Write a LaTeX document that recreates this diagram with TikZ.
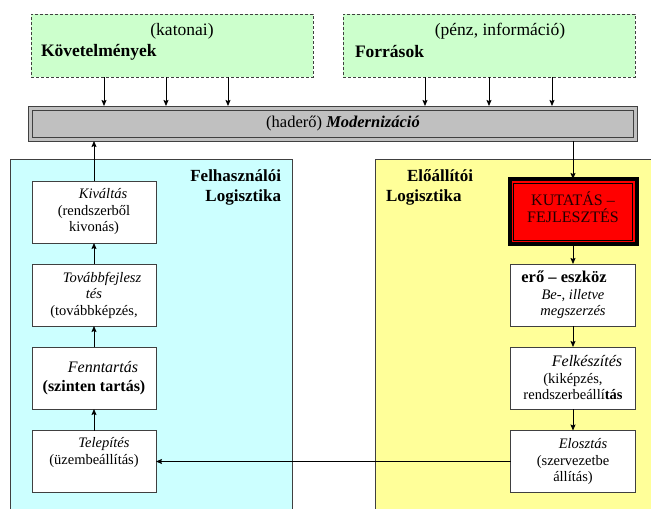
\documentclass[tikz,border=0pt]{standalone}
\usepackage{fontspec}
\setmainfont{Liberation Serif}
\usetikzlibrary{arrows.meta,calc}
\definecolor{gfill}{HTML}{CCFFCC}
\definecolor{cfill}{HTML}{CCFFFF}
\definecolor{yfill}{HTML}{FFFF99}
\definecolor{barfill}{HTML}{C0C0C0}
\definecolor{linec}{HTML}{404040}
\definecolor{kfcol}{HTML}{200000}
\newcommand{\bigt}{\fontsize{16}{18}\selectfont}
\begin{document}
\begin{tikzpicture}[x=1pt,y=-1pt,
  every node/.style={inner sep=0pt, outer sep=0pt},
  arr/.style={draw=black, line width=0.8pt, -{Stealth[length=6pt,width=5pt,inset=1pt]}},
  greenbox/.style={draw=linec, dash pattern=on 3pt off 2pt, fill=gfill, line width=0.7pt, anchor=north west, minimum height=63pt},
  wbox/.style={draw=linec, fill=white, line width=0.8pt, minimum width=125pt, minimum height=62pt, align=center, font=\fontsize{14.5}{16.5}\selectfont},
  area/.style={draw=linec, line width=0.8pt, anchor=north west},
  gtext/.style={font=\fontsize{17.5}{20}\selectfont},
  ttext/.style={font=\fontsize{17}{20}\selectfont\bfseries},
]
\useasboundingbox (0,0) rectangle (651,509);
\clip (0,0) rectangle (651,509);

% large areas
\node[area, fill=cfill, minimum width=282pt, minimum height=361pt] (cyan) at (10,159) {};
\node[area, fill=yfill, minimum width=285pt, minimum height=361pt] (yellow) at (375,159) {};

% green boxes
\node[greenbox, minimum width=282pt] (gL) at (31,14) {};
\node[greenbox, minimum width=292pt] (gR) at (343,14) {};
\node[gtext] (kat) at (182,31) {(katonai)};
\node[gtext, font=\fontsize{17.5}{20}\selectfont\bfseries, anchor=west] (kov) at (41,52) {Követelmények};
\node[gtext] (penz) at (500,31) {(pénz, információ)};
\node[gtext, font=\fontsize{17.5}{20}\selectfont\bfseries, anchor=west] (forr) at (355,52) {Források};

% bar
\node[draw=linec, fill=barfill, line width=0.8pt, minimum width=609pt, minimum height=35pt, anchor=north west] (bar) at (28,106) {};
\node[draw=linec, line width=0.8pt, minimum width=601pt, minimum height=27pt, anchor=north west] (barin) at (32,110) {};
\node[font=\fontsize{16.5}{19}\selectfont] (bartxt) at (343,124) {(haderő) \textbf{\textit{Modernizáció}}};

% titles
\node[ttext, align=right, anchor=east] (ftitle) at (281,187) {Felhasználói\\Logisztika};
\node[ttext, align=left, anchor=west] (etitle) at (386,187) {\hspace*{21pt}Előállítói\\Logisztika};

% left column
\node[wbox, minimum width=124pt] (k1) at (94,212) {\hspace*{18pt}\textit{Kiváltás}\\(rendszerből\\kivonás)};
\node[wbox, minimum width=124pt] (k2) at (94,295) {\hspace*{16pt}\textit{Továbbfejlesz}\\\textit{tés}\hspace*{36pt}\\(továbbképzés,};
\node[wbox, minimum width=124pt] (k3) at (94,378) {\hspace*{18pt}{\bigt\textit{Fenntartás}}\\[3pt]{\bigt\textbf{(szinten tartás)}}};
\node[wbox, minimum width=124pt] (k4) at (94,461.5) {\hspace*{20pt}\textit{Telepítés}\\(üzembeállítás)\\\strut};

% right column
\node[fill=red, draw=black, line width=4pt, minimum width=127pt, minimum height=65pt] (red) at (573,211.5) {};
\node[draw=black, line width=0.8pt, minimum width=119pt, minimum height=57pt] (redin) at (573,211.5) {};
\node[align=center, text=kfcol, font=\fontsize{16}{17.5}\selectfont] (redtxt) at (573,207) {KUTATÁS –\\FEJLESZTÉS};
\node[wbox] (r1) at (573,295) {{\fontsize{16.5}{18}\selectfont\textbf{erő – eszköz}}\hspace*{18pt}\\\textit{Be-, illetve}\\\textit{megszerzés}};
\node[wbox] (r2) at (573,378) {\hspace*{28pt}{\bigt\textit{Felkészítés}}\\(kiképzés,\hspace*{14pt}\\rendszerbeállí\textbf{tás}};
\node[wbox] (r3) at (573,461.5) {\hspace*{20pt}\textit{Elosztás}\\(szervezetbe\\állítás)};

% arrow anchor columns
\coordinate (a1) at (104,0);
\coordinate (a2) at (166,0);
\coordinate (a3) at (228,0);
\coordinate (a4) at (425,0);
\coordinate (a5) at (489,0);
\coordinate (a6) at (552,0);
\foreach \c in {a1,a2,a3} \draw[arr] (gL.south -| \c) -- (bar.north -| \c);
\foreach \c in {a4,a5,a6} \draw[arr] (gR.south -| \c) -- (bar.north -| \c);

\draw[arr] (bar.south -| red.north) -- (red.north);
\draw[arr] (red.south) -- (r1.north);
\draw[arr] (r1.south) -- (r2.north);
\draw[arr] (r2.south) -- (r3.north);
\draw[arr] (r3.west) -- (k4.east);
\draw[arr] (k4.north) -- (k3.south);
\draw[arr] (k3.north) -- (k2.south);
\draw[arr] (k2.north) -- (k1.south);
\draw[arr] (k1.north) -- (bar.south -| k1.north);
\end{tikzpicture}
\end{document}
